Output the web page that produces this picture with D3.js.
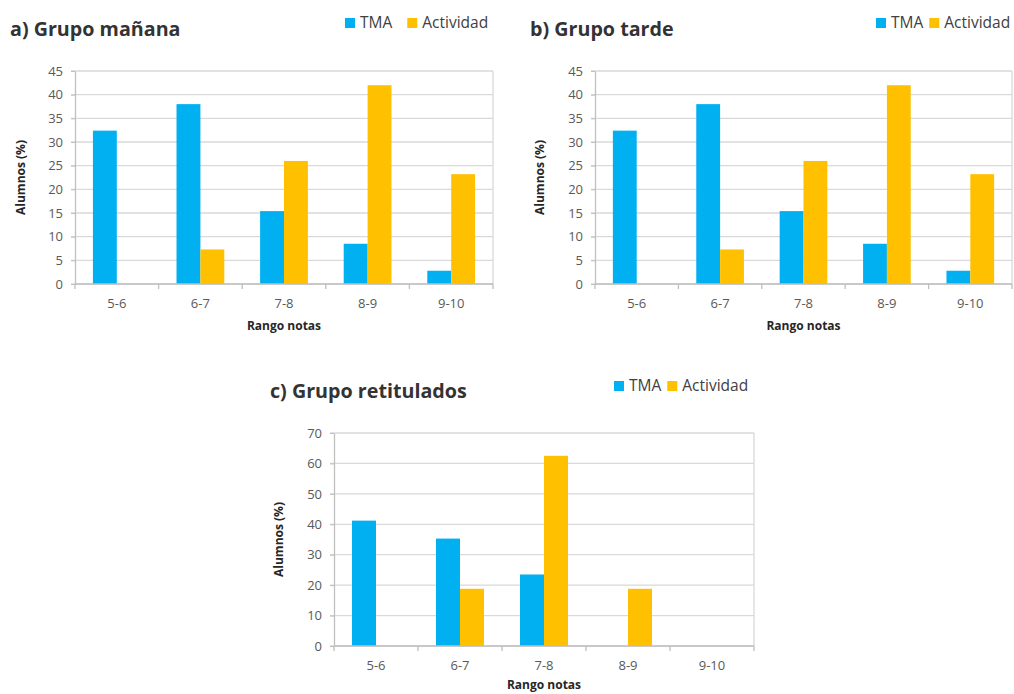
<!DOCTYPE html>
<html>
<head>
<meta charset="utf-8">
<script src="https://cdn.jsdelivr.net/npm/d3@7"></script>
<style>
  html, body { margin: 0; padding: 0; background: #fff; }
  svg { display: block; }
  text { font-family: "Open Sans", "Noto Sans", sans-serif; }
</style>
</head>
<body>
<svg id="chart" width="1014" height="694"></svg>
<script>
// Grade ranges and series
const categories = ["5-6", "6-7", "7-8", "8-9", "9-10"];
const seriesNames = ["TMA", "Actividad"];
const seriesColors = ["#00B0F0", "#FFC000"];

// a) Morning group (% of students)
const mananaTMA = [32.4, 38.0, 15.4, 8.5, 2.8];
const mananaActividad = [0, 7.3, 26.0, 42.0, 23.2];

// b) Afternoon group (% of students)
const tardeTMA = [32.4, 38.0, 15.4, 8.5, 2.8];
const tardeActividad = [0, 7.3, 26.0, 42.0, 23.2];

// c) Retitled group (% of students)
const retituladosTMA = [41.2, 35.3, 23.5, 0, 0];
const retituladosActividad = [0, 18.8, 62.5, 18.8, 0];

// Axis ticks
const ticksAB = [0, 5, 10, 15, 20, 25, 30, 35, 40, 45];
const ticksC = [0, 10, 20, 30, 40, 50, 60, 70];

const titles = ["a) Grupo mañana", "b) Grupo tarde", "c) Grupo retitulados"];
const xTitle = "Rango notas";
const yTitle = "Alumnos (%)";

const svg = d3.select("#chart");

// Panel layout: plot box, title/legend anchors, axis-title anchors
const panels = [
  { title: titles[0], tma: mananaTMA, act: mananaActividad, ticks: ticksAB,
    plot: { x0: 75, x1: 493, y0: 71, y1: 284 },
    titlePos: [10, 36], legendPos: [345, 28], legendGap: 15,
    yTitleX: 21, xTitleY: 330, tickLabelY: 308 },
  { title: titles[1], tma: tardeTMA, act: tardeActividad, ticks: ticksAB,
    plot: { x0: 595, x1: 1012, y0: 71, y1: 284 },
    titlePos: [530, 36], legendPos: [876, 28], legendGap: 6,
    yTitleX: 540, xTitleY: 330, tickLabelY: 308 },
  { title: titles[2], tma: retituladosTMA, act: retituladosActividad, ticks: ticksC,
    plot: { x0: 334, x1: 754, y0: 433, y1: 646 },
    titlePos: [270, 398], legendPos: [614, 391], legendGap: 6,
    yTitleX: 279, xTitleY: 689, tickLabelY: 670 }
];

panels.forEach(drawPanel);

function drawPanel(p) {
  const g = svg.append("g");
  const { x0, x1, y0, y1 } = p.plot;

  const x = d3.scaleBand().domain(categories).range([x0, x1]).padding(0);
  const xs = d3.scaleBand().domain(seriesNames).range([0, x.bandwidth()])
    .paddingInner(0).paddingOuter(0.75);
  const y = d3.scaleLinear().domain([0, d3.max(p.ticks)]).range([y1, y0]);

  // Gridlines
  g.append("g").selectAll("line").data(p.ticks).join("line")
    .attr("x1", x0 - 4).attr("x2", x1)
    .attr("y1", d => y(d)).attr("y2", d => y(d))
    .attr("stroke", "#d9d9d9").attr("stroke-width", 1.3);

  // Plot area right border
  g.append("line").attr("x1", x1).attr("x2", x1).attr("y1", y0).attr("y2", y1)
    .attr("stroke", "#d9d9d9").attr("stroke-width", 1.3);

  // Bars
  const rows = categories.map((c, i) => ({ cat: c, vals: [p.tma[i], p.act[i]] }));
  const grp = g.append("g").selectAll("g").data(rows).join("g")
    .attr("transform", d => `translate(${x(d.cat)},0)`);
  grp.selectAll("rect")
    .data(d => d.vals.map((v, k) => ({ name: seriesNames[k], v, k })))
    .join("rect")
    .attr("x", d => xs(d.name))
    .attr("width", xs.bandwidth())
    .attr("y", d => y(d.v))
    .attr("height", d => y(0) - y(d.v))
    .attr("fill", d => seriesColors[d.k]);

  // Y axis
  const yAxis = g.append("g").attr("transform", `translate(${x0},0)`)
    .call(d3.axisLeft(y).tickValues(p.ticks).tickSize(4).tickPadding(8).tickSizeOuter(0));
  yAxis.select(".domain").attr("stroke", "#bfbfbf").attr("stroke-width", 1.3);
  yAxis.selectAll(".tick line").attr("stroke", "#bfbfbf");
  yAxis.selectAll(".tick text").attr("fill", "#595959").style("font-size", "13px");

  // X axis baseline with tick marks between categories
  const xAxis = g.append("g");
  xAxis.append("line").attr("x1", x0).attr("x2", x1).attr("y1", y1).attr("y2", y1)
    .attr("stroke", "#bfbfbf").attr("stroke-width", 1.3);
  const bounds = categories.map(c => x(c)).concat([x1]);
  xAxis.selectAll("line.tk").data(bounds).join("line").attr("class", "tk")
    .attr("x1", d => d).attr("x2", d => d).attr("y1", y1).attr("y2", y1 + 5)
    .attr("stroke", "#bfbfbf").attr("stroke-width", 1.3);
  xAxis.selectAll("text").data(categories).join("text")
    .attr("x", d => x(d) + x.bandwidth() / 2).attr("y", p.tickLabelY)
    .attr("text-anchor", "middle").attr("fill", "#595959")
    .style("font-size", "13px").text(d => d);

  // Axis titles
  g.append("text").attr("x", (x0 + x1) / 2).attr("y", p.xTitleY)
    .attr("text-anchor", "middle").attr("fill", "#262626")
    .style("font-size", "12px").style("font-weight", "bold").text(xTitle);
  g.append("text")
    .attr("transform", `translate(${p.yTitleX + 4},${(y0 + y1) / 2}) rotate(-90)`)
    .attr("text-anchor", "middle").attr("fill", "#262626")
    .style("font-size", "12px").style("font-weight", "bold").text(yTitle);

  // Title
  g.append("text").attr("x", p.titlePos[0]).attr("y", p.titlePos[1])
    .attr("fill", "#333").style("font-size", "19.7px").style("font-weight", "bold")
    .text(p.title);

  // Legend
  const lg = g.append("g").attr("transform", `translate(${p.legendPos[0]},${p.legendPos[1]})`);
  let lx = 0;
  seriesNames.forEach((name, k) => {
    lg.append("rect").attr("x", lx).attr("y", -10).attr("width", 10).attr("height", 10)
      .attr("fill", seriesColors[k]);
    const t = lg.append("text").attr("x", lx + 15).attr("y", 0)
      .attr("fill", "#404040").style("font-size", "15.5px").text(name);
    lx += 15 + t.node().getComputedTextLength() + p.legendGap;
  });
}
</script>
</body>
</html>
